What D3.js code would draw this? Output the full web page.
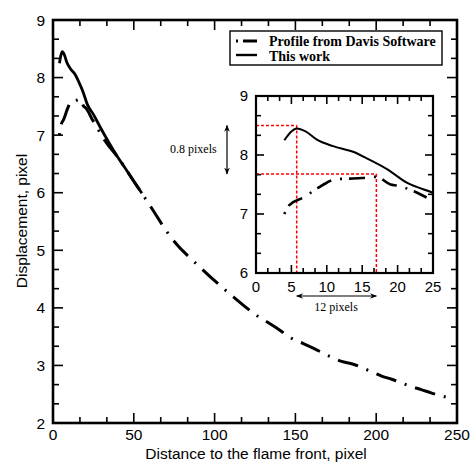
<!DOCTYPE html>
<html><head><meta charset="utf-8">
<script src="https://cdn.jsdelivr.net/npm/d3@7"></script>
<style>body{margin:0;background:#fff}svg{display:block}</style>
</head><body>
<svg id="c" width="471" height="463"></svg>
<script>
// Data
const workX = [4, 5, 5.75, 7, 8.6, 10.9, 13.8, 15.7, 18.5, 21.3, 25, 29, 35, 40, 44.6, 50, 55];
const workY = [8.25, 8.4, 8.45, 8.4, 8.26, 8.15, 8.05, 7.94, 7.76, 7.53, 7.36, 7.15, 6.85, 6.62, 6.43, 6.2, 5.99];
const davisX = [4, 4.7, 6.7, 8.6, 10, 11.2, 13.3, 15, 17, 19, 20, 21.6, 24.1, 26, 29.5, 33.2, 40, 44.6, 50, 59, 73.4, 92, 111.6, 127, 132.8, 138.4, 147.7, 154.9, 161, 172.5, 178.6, 184.8, 197.2, 203, 209.6, 222, 227.9, 234.3, 247.5];
const davisY = [7.0, 7.15, 7.28, 7.43, 7.53, 7.59, 7.6, 7.61, 7.63, 7.5, 7.48, 7.42, 7.28, 7.2, 7.02, 6.86, 6.62, 6.43, 6.2, 5.82, 5.21, 4.68, 4.19, 3.85, 3.75, 3.65, 3.47, 3.38, 3.3, 3.14, 3.07, 3.03, 2.89, 2.82, 2.76, 2.63, 2.58, 2.52, 2.42];
const mainXTicks = [0, 50, 100, 150, 200, 250];
const mainYTicks = [2, 3, 4, 5, 6, 7, 8, 9];
const insetXTicks = [0, 5, 10, 15, 20, 25];
const insetYTicks = [6, 7, 8, 9];
const peakWork = [5.75, 8.5];
const peakDavis = [17, 7.68];
const legendLabels = ["Profile from Davis Software", "This work"];

const svg = d3.select("#c");
const davisPts = davisX.map((x, i) => [x, davisY[i]]);
const workPts = workX.map((x, i) => [x, workY[i]]);
const DASH = "2,9,21,9";

function drawFrame(g, x, y, opt) {
  const [x0, x1] = x.range(), [y0, y1] = y.range();
  const xd = x.domain(), yd = y.domain();
  const xs = opt.xMajor, ys = opt.yMajor;
  const minorX = [], minorY = [];
  for (let v = xd[0]; v <= xd[1] + 1e-9; v += opt.xStep / 3) minorX.push(v);
  for (let v = yd[0]; v <= yd[1] + 1e-9; v += opt.yStep / 3) minorY.push(v);
  const isMaj = (v, s) => Math.abs(v / s - Math.round(v / s)) < 1e-6;
  minorX.forEach(v => {
    const L = isMaj(v, opt.xStep) ? opt.maj : opt.min;
    const px = x(v);
    g.append("line").attr("x1", px).attr("x2", px).attr("y1", y0).attr("y2", y0 - L).attr("stroke", "#000").attr("stroke-width", 1.6);
    g.append("line").attr("x1", px).attr("x2", px).attr("y1", y1).attr("y2", y1 + L).attr("stroke", "#000").attr("stroke-width", 1.6);
  });
  minorY.forEach(v => {
    const L = isMaj(v, opt.yStep) ? opt.maj : opt.min;
    const py = y(v);
    g.append("line").attr("x1", x0).attr("x2", x0 + L).attr("y1", py).attr("y2", py).attr("stroke", "#000").attr("stroke-width", 1.6);
    g.append("line").attr("x1", x1).attr("x2", x1 - L).attr("y1", py).attr("y2", py).attr("stroke", "#000").attr("stroke-width", 1.6);
  });
  g.append("rect").attr("x", x0).attr("y", y1).attr("width", x1 - x0).attr("height", y0 - y1)
    .attr("fill", "none").attr("stroke", "#000").attr("stroke-width", opt.frame);
  xs.forEach(v => g.append("text").attr("x", x(v)).attr("y", y0 + opt.xLabOff).attr("text-anchor", "middle")
    .attr("font-family", "Liberation Sans, Arial, sans-serif").attr("font-size", opt.fs).text(v));
  ys.forEach(v => g.append("text").attr("x", x0 - opt.yLabOff).attr("y", y(v)).attr("dy", "0.36em").attr("text-anchor", "end")
    .attr("font-family", "Liberation Sans, Arial, sans-serif").attr("font-size", opt.fs).text(v));
}

// Main plot
const x = d3.scaleLinear().domain([0, 250]).range([53, 457]);
const y = d3.scaleLinear().domain([2, 9]).range([423, 20]);
const mainG = svg.append("g");

const line = (sx, sy) => d3.line().x(d => sx(d[0])).y(d => sy(d[1])).curve(d3.curveMonotoneX);

mainG.append("path").attr("d", line(x, y)(davisPts)).attr("fill", "none").attr("stroke", "#000")
  .attr("stroke-width", 3).attr("stroke-dasharray", DASH);
mainG.append("path").attr("d", line(x, y)(workPts)).attr("fill", "none").attr("stroke", "#000")
  .attr("stroke-width", 2.8);

drawFrame(mainG, x, y, {xMajor: mainXTicks, yMajor: mainYTicks, xStep: 50, yStep: 1, maj: 10, min: 6, frame: 2.6, fs: 15.5, xLabOff: 17, yLabOff: 8});

// Axis titles
svg.append("text").attr("x", 256).attr("y", 459).attr("text-anchor", "middle")
  .attr("font-family", "Liberation Sans, Arial, sans-serif").attr("font-size", 15.5).text("Distance to the flame front, pixel");
svg.append("text").attr("transform", "translate(27,221) rotate(-90)").attr("text-anchor", "middle")
  .attr("font-family", "Liberation Sans, Arial, sans-serif").attr("font-size", 15.5).text("Displacement, pixel");

// Legend
const lg = svg.append("g");
lg.append("rect").attr("x", 230).attr("y", 31).attr("width", 212).attr("height", 34).attr("fill", "#fff").attr("stroke", "#000").attr("stroke-width", 1.4);
lg.append("line").attr("x1", 236).attr("x2", 257).attr("y1", 41).attr("y2", 41).attr("stroke", "#000").attr("stroke-width", 3).attr("stroke-dasharray", "2,5,14,9");
lg.append("line").attr("x1", 236).attr("x2", 257).attr("y1", 55).attr("y2", 55).attr("stroke", "#000").attr("stroke-width", 2.4);
legendLabels.forEach((t, i) => lg.append("text").attr("x", 269).attr("y", 46 + i * 14.5)
  .attr("font-family", "Liberation Serif, Times New Roman, serif").attr("font-weight", "bold").attr("font-size", 14).text(t));

// Inset
const ix = d3.scaleLinear().domain([0, 25]).range([256, 433]);
const iy = d3.scaleLinear().domain([6, 9]).range([273, 96]);
const ig = svg.append("g");
ig.append("rect").attr("x", 256).attr("y", 96).attr("width", 177).attr("height", 177).attr("fill", "#fff");
svg.append("defs").append("clipPath").attr("id", "ic").append("rect").attr("x", 256).attr("y", 96).attr("width", 177).attr("height", 177);

const red = (x1, y1, x2, y2) => ig.append("line").attr("x1", x1).attr("y1", y1).attr("x2", x2).attr("y2", y2)
  .attr("stroke", "#ff0000").attr("stroke-width", 1.5).attr("stroke-dasharray", "3,2");
red(ix(0), iy(peakWork[1]), ix(peakWork[0]), iy(peakWork[1]));
red(ix(peakWork[0]), iy(peakWork[1]), ix(peakWork[0]), iy(6));
red(ix(0), iy(peakDavis[1]), ix(peakDavis[0]), iy(peakDavis[1]));
red(ix(peakDavis[0]), iy(peakDavis[1]), ix(peakDavis[0]), iy(6));

const clipG = ig.append("g").attr("clip-path", "url(#ic)");
clipG.append("path").attr("d", line(ix, iy)(davisPts.filter(d => d[0] <= 24.3))).attr("fill", "none").attr("stroke", "#000")
  .attr("stroke-width", 2.6).attr("stroke-dasharray", "2,7,16,9");
clipG.append("path").attr("d", line(ix, iy)(workPts.filter(d => d[0] <= 29))).attr("fill", "none").attr("stroke", "#000")
  .attr("stroke-width", 2);

drawFrame(ig, ix, iy, {xMajor: insetXTicks, yMajor: insetYTicks, xStep: 5, yStep: 1, maj: 8, min: 5, frame: 2.2, fs: 15, xLabOff: 19, yLabOff: 8});

// Annotations with arrows
const defs = svg.select("defs");
defs.append("marker").attr("id", "ah").attr("viewBox", "0 0 10 10").attr("refX", 9).attr("refY", 5)
  .attr("markerWidth", 7).attr("markerHeight", 7).attr("orient", "auto-start-reverse").attr("markerUnits", "userSpaceOnUse")
  .append("path").attr("d", "M0,1 L10,5 L0,9 L3,5 Z").attr("fill", "#000");
svg.append("line").attr("x1", 227).attr("x2", 227).attr("y1", iy(peakWork[1])).attr("y2", iy(peakDavis[1]))
  .attr("stroke", "#000").attr("stroke-width", 1.2).attr("marker-start", "url(#ah)").attr("marker-end", "url(#ah)");
svg.append("text").attr("x", 170).attr("y", 153).attr("font-family", "Liberation Serif, Times New Roman, serif").attr("font-size", 12).text("0.8 pixels");
svg.append("line").attr("x1", ix(peakWork[0])).attr("x2", ix(peakDavis[0])).attr("y1", 296).attr("y2", 296)
  .attr("stroke", "#000").attr("stroke-width", 1.2).attr("marker-start", "url(#ah)").attr("marker-end", "url(#ah)");
svg.append("text").attr("x", 336).attr("y", 311).attr("text-anchor", "middle").attr("font-family", "Liberation Serif, Times New Roman, serif").attr("font-size", 12).text("12 pixels");
</script>
</body></html>
